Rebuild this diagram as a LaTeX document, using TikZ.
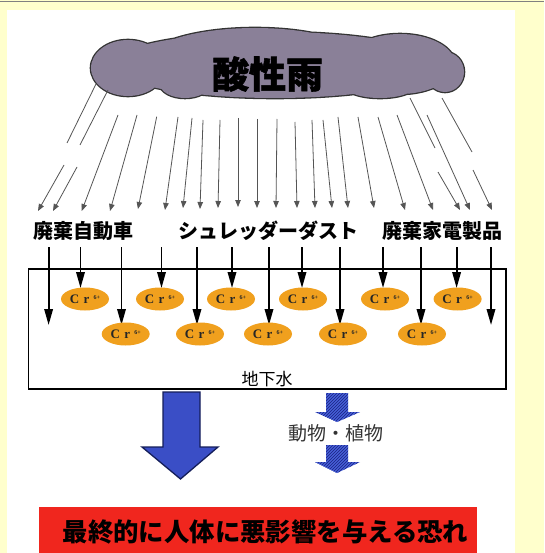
\documentclass[tikz,border=0pt]{standalone}
\usepackage{fontspec}
\setmainfont{Liberation Serif}
\newfontfamily\jp{Noto Sans CJK JP}
\newfontfamily\jpheavy[BoldFeatures={FakeBold=1.5}]{Noto Sans CJK JP}
\usetikzlibrary{shapes.geometric,arrows.meta,patterns}
\definecolor{pagey}{RGB}{255,255,204}
\definecolor{cloudc}{RGB}{138,128,152}
\definecolor{crc}{RGB}{240,160,30}
\definecolor{bigblue}{RGB}{58,78,198}
\definecolor{navy}{RGB}{20,30,90}
\definecolor{hblue}{RGB}{70,95,215}
\definecolor{hdark}{RGB}{25,35,130}
\definecolor{warnred}{RGB}{240,38,30}
\definecolor{raingray}{RGB}{85,85,85}
\tikzset{
  rain/.style={draw=raingray,line width=0.8pt},
  rainarr/.style={rain,-{Triangle[length=7pt,width=5.5pt]}},
  droparr/.style={draw=black,line width=1.8pt,-{Triangle[length=16pt,width=8.5pt]}},
  crnode/.style={ellipse,fill=crc,draw=none,minimum width=48pt,minimum height=23pt,inner sep=0pt,font=\fontsize{13}{13}\selectfont\bfseries,text=black!85},
  lab/.style={font=\jp\bfseries\fontsize{20}{20}\selectfont,inner sep=0pt},
}
\newcommand{\crtext}{C\,\,r\,\,\raisebox{4pt}{\fontsize{6}{6}\selectfont 6+}}
\begin{document}
\begin{tikzpicture}[x=1pt,y=-1pt]
\useasboundingbox (0,0) rectangle (544,553);
% background
\fill[pagey] (0,0) rectangle (544,553);
\fill[white] (7,10) rectangle (515,553);
\draw[gray,line width=1.5pt] (0,1.5) -- (544,1.5);
% cloud
\def\cloudparts{%
  (275,65) ellipse (165 and 33)
  (255,62) ellipse (110 and 34)
  (128,68) ellipse (37 and 28)
  (400,64) ellipse (55 and 30)
  (445,72) ellipse (19 and 20)
  (185,84) ellipse (25 and 14)
  (380,86) ellipse (35 and 12)}
\draw[black!80,line width=2.6pt] \cloudparts;
\fill[cloudc] \cloudparts;
\node[font=\jpheavy\bfseries\fontsize{37}{37}\selectfont,inner sep=0pt] (title) at (267.5,74) {酸性雨};
% rain lines
\draw[rain] (96,84) -- (67,143);
\draw[rainarr] (64,165) -- (38,211);
\draw[rain] (108,90) -- (80,145);
\draw[rainarr] (77,167) -- (53,211);
\foreach \xa/\ya/\xb/\yb in {118/115/81.7/211, 137/115/110/211, 156.7/116.7/138/209,
  178/117/165/210, 192/118/183/208, 203/120/200/209, 220/120/218/208, 238/118/238/207,
  257/119/257/208, 277/119/276/208, 295/122/297/208, 312/120/315/208, 323/120/332/208,
  338/117/348/208, 358/117/374/208, 378/117/405/210, 397/115/433/210, 427/115/470/210}
  \draw[rainarr] (\xa,\ya) -- (\xb,\yb);
\draw[rain] (410,98) -- (435,148);
\draw[rainarr] (438,172) -- (460,210);
\draw[rain] (442,98) -- (472,152);
\draw[rainarr] (473,170) -- (492,210);
% labels
\node[lab] (car) at (83.5,231) {廃棄自動車};
\node[lab] (dust) at (268.5,231) {シュレッダーダスト};
\node[lab] (appl) at (442,231) {廃棄家電製品};
% ground water box
\draw[black,line width=1.4pt] (28.5,269) rectangle (506,389);
\node[font=\jp\fontsize{17}{17}\selectfont,inner sep=0pt] (gw) at (267,379.5) {地下水};
% vertical arrows
\foreach \x [count=\i] in {48.6,80.5,121.5,161.5,197,232,269,302,340,383,421,456.6,491}{
  \pgfmathsetmacro{\yend}{isodd(\i) ? 325 : 288}
  \draw[droparr] (\x,247) -- (\x,\yend);
}
% Cr ellipses
\foreach \x [count=\i] in {85,160,231,303,385,457.6}
  \node[crnode] (ct\i) at (\x,299) {\crtext};
\foreach \x [count=\i] in {125.7,200,268,343,422}
  \node[crnode] (cb\i) at (\x,334) {\crtext};
% big arrow
\draw[fill=bigblue,draw=navy,line width=1.3pt,line join=miter]
  (163,392) -- (200,392) -- (200,447) -- (218,447) -- (180.5,479) -- (142,447) -- (163,447) -- cycle;
% small hatched arrows
\foreach \yt/\yh/\yp in {393/412/422, 445/462/473}{
  \fill[hblue] (326,\yt) -- (348,\yt) -- (348,\yh) -- (360,\yh) -- (337,\yp) -- (315,\yh) -- (326,\yh) -- cycle;
  \fill[pattern=north east lines,pattern color=hdark] (326,\yt) -- (348,\yt) -- (348,\yh) -- (360,\yh) -- (337,\yp) -- (315,\yh) -- (326,\yh) -- cycle;
}
\node[font=\jp\fontsize{19}{19}\selectfont,text=black!80,inner sep=0pt] (bio) at (336,433) {動物・植物};
% red box
\fill[warnred] (39.3,507) rectangle (476.7,553);
\node[font=\jp\bfseries\fontsize{25.4}{25.4}\selectfont,inner sep=0pt] (warn) at (265.5,532) {最終的に人体に悪影響を与える恐れ};
\end{tikzpicture}
\end{document}
